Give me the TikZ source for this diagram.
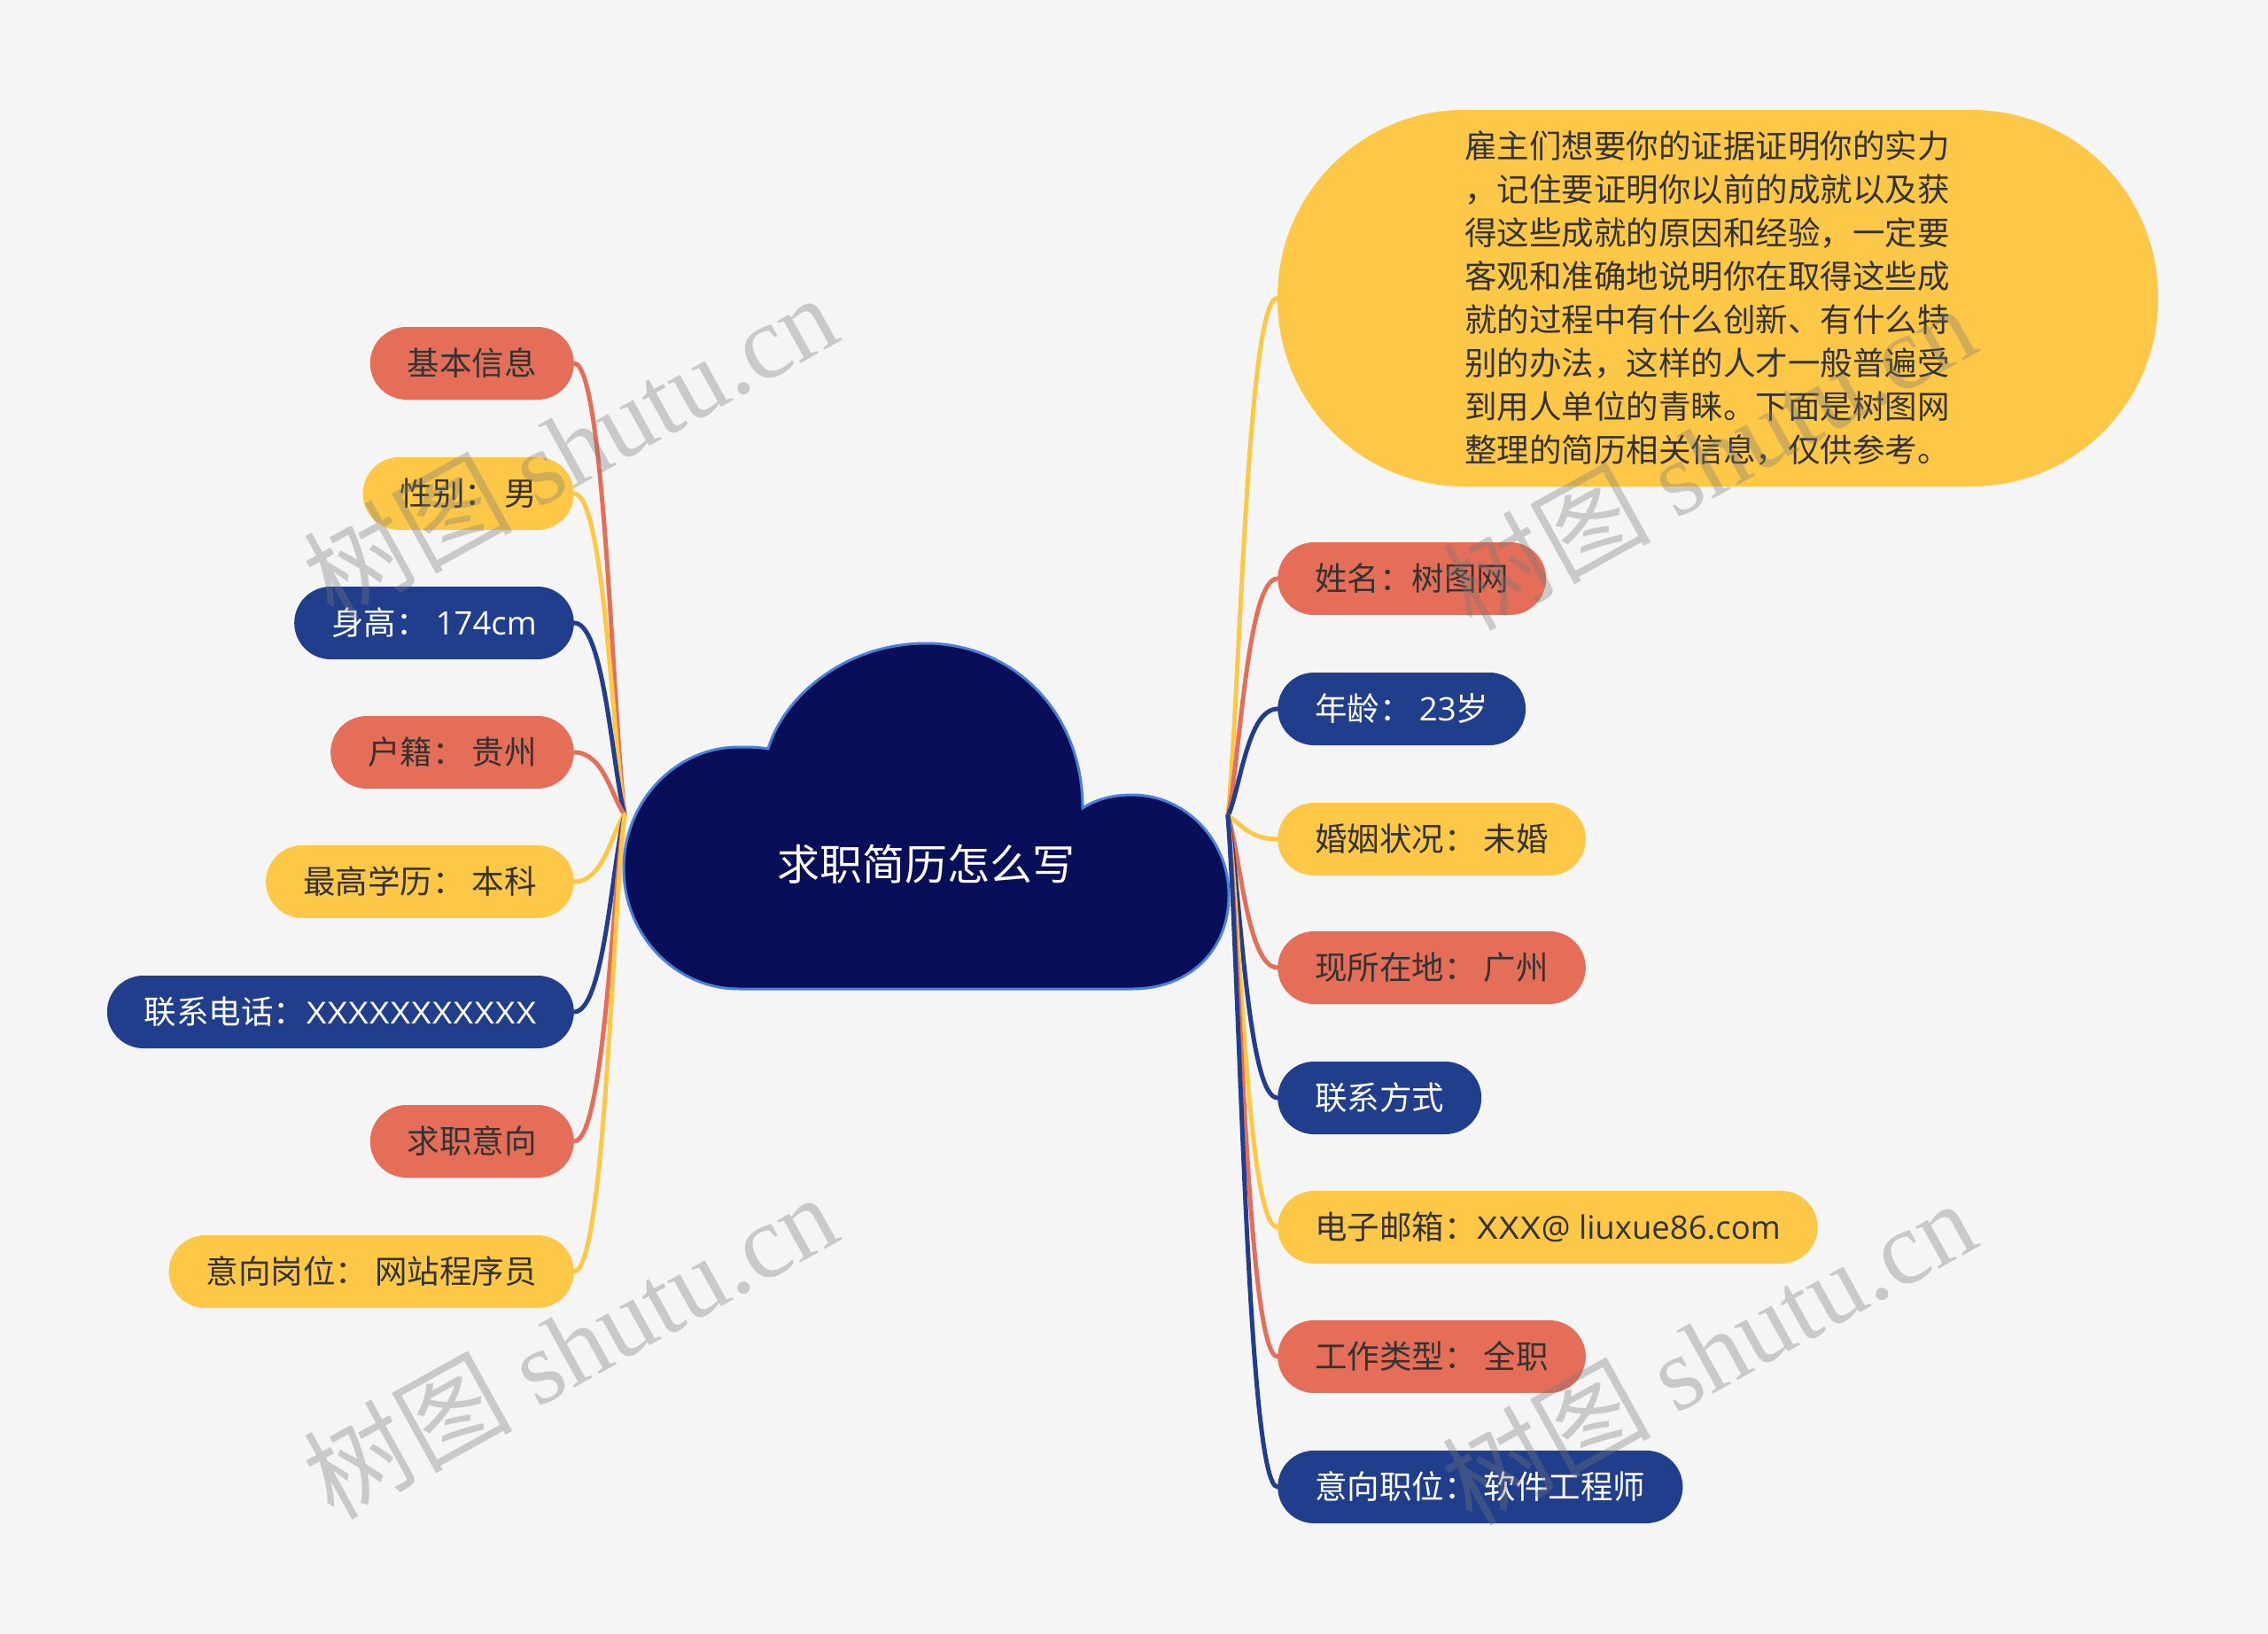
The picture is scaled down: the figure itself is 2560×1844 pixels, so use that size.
\documentclass[tikz,border=0pt]{standalone}
\usepackage{fontspec}
\setmainfont{Noto Sans CJK SC}
\newfontfamily\wmcjk{Noto Sans CJK SC}
\newfontfamily\wmlat{Liberation Serif}
\newfontfamily\latf{Open Sans}
\newfontfamily\xf{Liberation Sans}
\usetikzlibrary{calc}
\definecolor{bgc}{HTML}{F5F5F5}
\definecolor{cO}{HTML}{E56E58}
\definecolor{cY}{HTML}{FDC848}
\definecolor{cB}{HTML}{203E8C}
\definecolor{cloudfill}{HTML}{080E58}
\definecolor{cloudline}{HTML}{4A80D8}
\definecolor{tdark}{HTML}{333333}
\definecolor{wmgray}{HTML}{787878}
\pgfdeclarelayer{bglayer}
\pgfdeclarelayer{lines}
\pgfsetlayers{bglayer,lines,main}
\tikzset{
  pill/.style={rounded corners=41pt, minimum height=82pt, inner xsep=42pt, inner ysep=0pt,
    text height=32.1pt, text depth=4.4pt, font={\fontsize{36.5}{44}\selectfont}},
  po/.style={pill, fill=cO, text=tdark},
  py/.style={pill, fill=cY, text=tdark},
  pb/.style={pill, fill=cB, text=white},
  conn/.style={line width=5pt, line cap=round},
  wm/.style={text=wmgray, text opacity=0.35, font={\fontsize{118}{118}\selectfont}, rotate=29, inner sep=0pt}
}
\begin{document}
\begin{tikzpicture}[x=1pt,y=-1pt]
\begin{pgfonlayer}{bglayer}
\fill[bgc] (0,0) rectangle (2560,1844);
\end{pgfonlayer}
\useasboundingbox (0,0) rectangle (2560,1844);

% cloud
\path[fill=cloudfill, draw=cloudline, line width=3pt]
  (834,1116) -- (1278,1116)
  .. controls (1340,1116) and (1387,1075) .. (1387,1010)
  .. controls (1387,948) and (1338,897) .. (1278,897)
  .. controls (1256,897) and (1237,902) .. (1222,912)
  .. controls (1222,800) and (1140,726) .. (1045,726)
  .. controls (955,726) and (885,785) .. (867,845)
  .. controls (856,843) and (845,843) .. (834,843)
  .. controls (762,843) and (704,905) .. (704,980)
  .. controls (704,1055) and (762,1116) .. (834,1116) -- cycle;
\node[text=white, font={\fontsize{48}{48}\selectfont}] (root) at (1045,975) {求职简历怎么写};
\coordinate (hubL) at (705,919);
\coordinate (hubR) at (1386,921);

% left nodes
\node[po, anchor=east] (l1) at (648,410) {基本信息};
\node[py, anchor=east] (l2) at (648,557) {性别： 男};
\node[pb, anchor=east] (l3) at (648,703) {身高： {\latf 174cm}};
\node[po, anchor=east] (l4) at (648,849) {户籍： 贵州};
\node[py, anchor=east] (l5) at (648,995) {最高学历： 本科};
\node[pb, anchor=east] (l6) at (648,1142) {联系电话：{\xf\fontsize{35.5}{44}\selectfont XXXXXXXXXXX}};
\node[po, anchor=east] (l7) at (648,1288) {求职意向};
\node[py, anchor=east] (l8) at (648,1435) {意向岗位： 网站程序员};

% right nodes
\node[fill=cY, text=tdark, rounded corners=211pt, minimum width=994pt, minimum height=425pt,
  inner sep=0pt, text width=572pt, align=left, font={\fontsize{36.5}{49}\selectfont}] (r0) at (1939,336.5)
  {雇主们想要你的证据证明你的实力\\，记住要证明你以前的成就以及获\\得这些成就的原因和经验，一定要\\客观和准确地说明你在取得这些成\\就的过程中有什么创新、有什么特\\别的办法，这样的人才一般普遍受\\到用人单位的青睐。下面是树图网\\整理的简历相关信息，仅供参考。};
\node[po, anchor=west] (r1) at (1442,653) {姓名：树图网};
\node[pb, anchor=west] (r2) at (1442,800) {年龄： {\latf 23}岁};
\node[py, anchor=west] (r3) at (1442,947) {婚姻状况： 未婚};
\node[po, anchor=west] (r4) at (1442,1092) {现所在地： 广州};
\node[pb, anchor=west] (r5) at (1442,1239) {联系方式};
\node[py, anchor=west] (r6) at (1442,1385) {电子邮箱：{\xf XXX}{\latf @ liuxue86.com}};
\node[po, anchor=west] (r7) at (1442,1531) {工作类型： 全职};
\node[pb, anchor=west] (r8) at (1442,1678) {意向职位： 软件工程师};

% connectors
\begin{pgfonlayer}{lines}
\foreach \n/\c in {l1/cO, l2/cY, l3/cB, l4/cO, l5/cY, l6/cB, l7/cO, l8/cY}
  \draw[conn, draw=\c] (\n.east) .. controls ($(\n.east)+(34,0)$) and ($(hubL)!0.25!(\n.east)$) .. (hubL);
\foreach \n/\c in {r0/cY, r1/cO, r2/cB, r3/cY, r4/cO, r5/cB, r6/cY, r7/cO, r8/cB}
  \draw[conn, draw=\c] (hubR) .. controls ($(hubR)!0.25!(\n.west)$) and ($(\n.west)+(-34,0)$) .. (\n.west);
\end{pgfonlayer}

% watermarks
\node[wm] (w1) at (643,503) {{\wmcjk 树图} {\wmlat shutu.cn}};
\node[wm] (w2) at (643,1518) {{\wmcjk 树图} {\wmlat shutu.cn}};
\node[wm] (w3) at (1928,515) {{\wmcjk 树图} {\wmlat shutu.cn}};
\node[wm] (w4) at (1928,1525) {{\wmcjk 树图} {\wmlat shutu.cn}};
\end{tikzpicture}
\end{document}
